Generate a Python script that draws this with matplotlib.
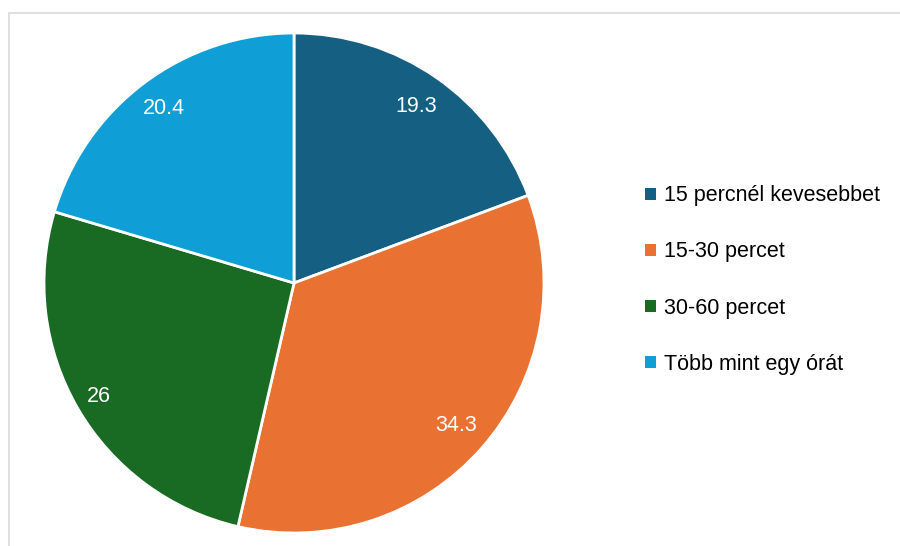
import matplotlib
matplotlib.use("Agg")
import matplotlib.pyplot as plt
import numpy as np
from matplotlib.patches import Rectangle, Patch

categories = ["15 percnél kevesebbet", "15-30 percet", "30-60 percet", "Több mint egy órát"]
values = [19.3, 34.3, 26, 20.4]
value_labels = ["19.3", "34.3", "26", "20.4"]
colors = ["#156082", "#E97132", "#196B24", "#0F9ED5"]

plt.rcParams['font.family'] = ['Liberation Sans', 'DejaVu Sans']

W, H = 900, 546
fig = plt.figure(figsize=(W / 100, H / 100), dpi=100)
fig.patch.set_facecolor("white")

# chart-area border (cropped on right and bottom)
fig.add_artist(Rectangle((9 / W, -0.1), 1.2, 1.1 - 13 / H, transform=fig.transFigure,
                         fill=False, edgecolor="#D9D9D9", linewidth=1.2))

cx, cy, r = 294, 283, 250
ax = fig.add_axes([(cx - r) / W, (H - cy - r) / H, 2 * r / W, 2 * r / H])
wedges, _ = ax.pie(values, colors=colors, startangle=90, counterclock=False,
                   wedgeprops=dict(edgecolor="white", linewidth=2))

# data labels placed inside each wedge (best-fit style radial offsets)
label_radius = [0.86, 0.862, 0.905, 0.87]
for w, lab, rr in zip(wedges, value_labels, label_radius):
    ang = np.deg2rad((w.theta1 + w.theta2) / 2)
    ax.text(rr * np.cos(ang), rr * np.sin(ang), lab, color="white", fontsize=15.5,
            ha="center", va="center")

ax.set_xlim(-1, 1)
ax.set_ylim(-1, 1)
ax.set_aspect("equal")

handles = [Patch(facecolor=c, edgecolor="none") for c in colors]
fig.legend(handles, categories, loc="center left", bbox_to_anchor=(634 / W, 1 - 280 / H),
           frameon=False, fontsize=15.5, handlelength=0.5, handleheight=0.5,
           handletextpad=0.4, labelspacing=1.63, borderpad=0)

fig.savefig("out.png", dpi=100, facecolor="white")
